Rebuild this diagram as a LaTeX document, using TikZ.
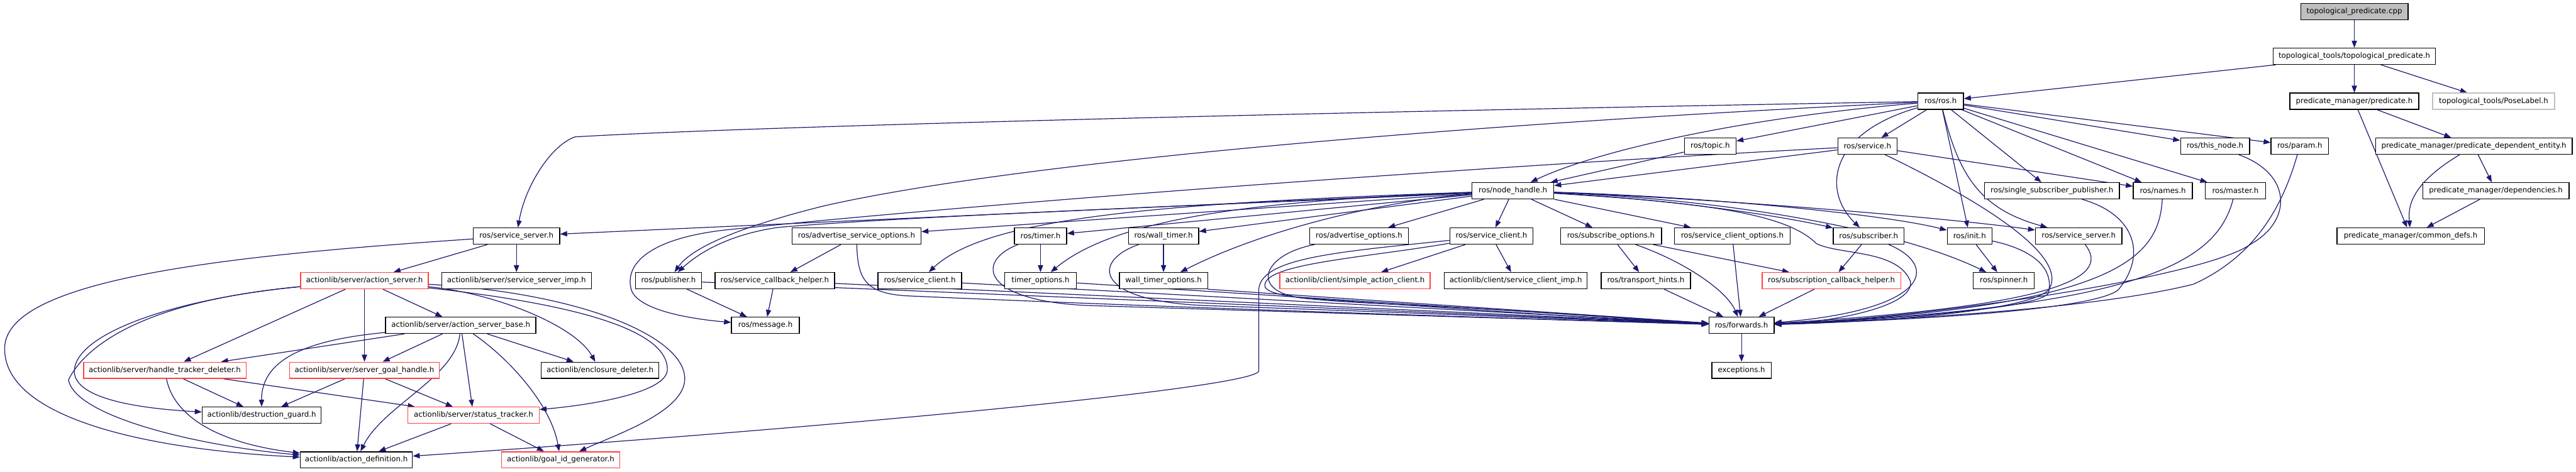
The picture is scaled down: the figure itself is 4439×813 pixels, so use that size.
\documentclass[tikz,border=0pt]{standalone}
\usepackage{fontspec}
\setmainfont{DejaVu Sans}
\usetikzlibrary{arrows.meta,backgrounds}
\definecolor{edgec}{HTML}{191970}
\definecolor{redc}{HTML}{FF4040}
\definecolor{grayc}{HTML}{BFBFBF}
\newcommand\nodefont{\fontsize{12.8pt}{15pt}\selectfont}
\begin{document}
\begin{tikzpicture}[x=1pt,y=-1pt,
  nd/.style={draw=black,line width=1.5pt,fill=white,minimum height=28pt,inner sep=0pt,font=\nodefont},
  rd/.style={nd,draw=redc},
  gd/.style={nd,draw=grayc},
  e/.style={draw=edgec,line width=1.3pt,-{Triangle[length=12pt,width=9pt]}}]
\useasboundingbox (0,0) rectangle (4439,813);
% row 0-4
\node[nd,fill=grayc,minimum width=185pt] (cpp) at (4057,20) {topological\_predicate.cpp};
\node[nd,minimum width=280pt] (tph) at (4057,97) {topological\_tools/topological\_predicate.h};
\node[nd,minimum width=79pt] (rosh) at (3344,174.5) {ros/ros.h};
\node[nd,minimum width=222pt] (pred) at (4057,174.5) {predicate\_manager/predicate.h};
\node[gd,minimum width=210pt] (pose) at (4297,174.5) {topological\_tools/PoseLabel.h};
\node[nd,minimum width=89pt] (topic) at (2947,252) {ros/topic.h};
\node[nd,minimum width=102pt] (service) at (3218,252) {ros/service.h};
\node[nd,minimum width=119pt] (thisnode) at (3817,252) {ros/this\_node.h};
\node[nd,minimum width=99pt] (param) at (3963,252) {ros/param.h};
\node[nd,minimum width=339pt] (pde) at (4263,252) {predicate\_manager/predicate\_dependent\_entity.h};
\node[nd,minimum width=141pt] (nh) at (2607,329) {ros/node\_handle.h};
\node[nd,minimum width=232pt] (ssp) at (3536,329) {ros/single\_subscriber\_publisher.h};
\node[nd,minimum width=102pt] (names) at (3727,329) {ros/names.h};
\node[nd,minimum width=104pt] (master) at (3852,329) {ros/master.h};
\node[nd,minimum width=252pt] (deps) at (4301,329) {predicate\_manager/dependencies.h};
% row 5
\node[nd,minimum width=149pt] (ssL) at (890,407) {ros/service\_server.h};
\node[nd,minimum width=222pt] (aso) at (1476,407) {ros/advertise\_service\_options.h};
\node[nd,minimum width=90pt] (timer) at (1793,407) {ros/timer.h};
\node[nd,minimum width=121pt] (walltimer) at (2005,407) {ros/wall\_timer.h};
\node[nd,minimum width=170pt] (advopt) at (2342,407) {ros/advertise\_options.h};
\node[nd,minimum width=143pt] (scA) at (2570,407) {ros/service\_client.h};
\node[nd,minimum width=174pt] (subopt) at (2776,407) {ros/subscribe\_options.h};
\node[nd,minimum width=199pt] (sco) at (2985,407) {ros/service\_client\_options.h};
\node[nd,minimum width=122pt] (subscriber) at (3220,407) {ros/subscriber.h};
\node[nd,minimum width=77pt] (init) at (3394,407) {ros/init.h};
\node[nd,minimum width=149pt] (ssR) at (3582,407) {ros/service\_server.h};
\node[nd,minimum width=254pt] (cdefs) at (4154,407) {predicate\_manager/common\_defs.h};
% row 6
\node[rd,minimum width=220pt] (aserver) at (628,484) {actionlib/server/action\_server.h};
\node[nd,minimum width=258pt] (ssimp) at (890,484) {actionlib/server/service\_server\_imp.h};
\node[nd,minimum width=114pt] (publisher) at (1152,484) {ros/publisher.h};
\node[nd,minimum width=206pt] (sch) at (1335,484) {ros/service\_callback\_helper.h};
\node[nd,minimum width=144pt] (scB) at (1585,484) {ros/service\_client.h};
\node[nd,minimum width=124pt] (timeropt) at (1793,484) {timer\_options.h};
\node[nd,minimum width=152pt] (wtopt) at (2005,484) {wall\_timer\_options.h};
\node[rd,minimum width=259pt] (sac) at (2335,484) {actionlib/client/simple\_action\_client.h};
\node[nd,minimum width=246pt] (scimp) at (2612,484) {actionlib/client/service\_client\_imp.h};
\node[nd,minimum width=154pt] (transport) at (2836,484) {ros/transport\_hints.h};
\node[rd,minimum width=239pt] (subcb) at (3156,484) {ros/subscription\_callback\_helper.h};
\node[nd,minimum width=105pt] (spinner) at (3453,484) {ros/spinner.h};
% row 7-10
\node[nd,minimum width=259pt] (asbase) at (794,561) {actionlib/server/action\_server\_base.h};
\node[nd,minimum width=117pt] (message) at (1319,561) {ros/message.h};
\node[nd,minimum width=112pt] (forwards) at (3001,561) {ros/forwards.h};
\node[rd,minimum width=280pt] (htd) at (284,638.5) {actionlib/server/handle\_tracker\_deleter.h};
\node[rd,minimum width=258pt] (sgh) at (628,638.5) {actionlib/server/server\_goal\_handle.h};
\node[nd,minimum width=203pt] (encl) at (1034,638.5) {actionlib/enclosure\_deleter.h};
\node[nd,minimum width=102pt] (exceptions) at (3001,638.5) {exceptions.h};
\node[nd,minimum width=205pt] (dguard) at (451,716) {actionlib/destruction\_guard.h};
\node[rd,minimum width=226pt] (stracker) at (816,716) {actionlib/server/status\_tracker.h};
\node[nd,minimum width=193pt] (adef) at (614,793) {actionlib/action\_definition.h};
\node[rd,minimum width=204pt] (goalid) at (966,793) {actionlib/goal\_id\_generator.h};

\begin{scope}[on background layer]
\fill[white] (0,0) rectangle (4439,813);
% top group
\draw[e] (cpp) -- (tph);
\draw[e] (tph) -- (rosh);
\draw[e] (tph) -- (pred);
\draw[e] (tph) -- (pose);
\draw[e] (pred) -- (pde);
\draw[e] (pred) -- (cdefs);
\draw[e] (pde) -- (deps);
\draw[e] (pde) .. controls (4150,320) and (4150,360) .. (cdefs);
\draw[e] (deps) -- (cdefs);
% ros.h
\draw[e] (rosh) -- (topic);
\draw[e] (rosh) -- (service);
\draw[e] (rosh) -- (init);
\draw[e] (rosh) -- (ssp);
\draw[e] (rosh) -- (names);
\draw[e] (rosh) -- (master);
\draw[e] (rosh) -- (thisnode);
\draw[e] (rosh) -- (param);
\draw[e] (rosh) .. controls (2980,205) and (2740,265) .. (nh);
\draw[e] (rosh) .. controls (2200,195) and (1300,218) .. (991,236) .. controls (950,250) and (905,320) .. (ssL);
\draw[e] (rosh) .. controls (2500,215) and (1750,280) .. (1420,355) .. controls (1260,395) and (1190,430) .. (publisher);
\draw[e] (rosh) .. controls (3150,230) and (3140,330) .. (subscriber);
\draw[e] (rosh) .. controls (3375,300) and (3410,360) .. (ssR);
% topic, service
\draw[e] (topic) -- (nh);
\draw[e] (service) -- (names);
\draw[e] (service) -- (nh);
\draw[e] (service) .. controls (2500,290) and (1700,350) .. (1246,397) .. controls (1120,412) and (1075,455) .. (1088,500) .. controls (1100,535) and (1190,550) .. (message);
\draw[e] (service) .. controls (3400,340) and (3570,440) .. (3530,500) .. controls (3490,540) and (3200,556) .. (forwards);
% node_handle
\draw[e] (nh) -- (ssL);
\draw[e] (nh) -- (aso);
\draw[e] (nh) -- (timer);
\draw[e] (nh) -- (walltimer);
\draw[e] (nh) -- (advopt);
\draw[e] (nh) -- (scA);
\draw[e] (nh) -- (subopt);
\draw[e] (nh) -- (sco);
\draw[e] (nh) .. controls (2900,345) and (3080,375) .. (subscriber);
\draw[e] (nh) .. controls (2950,340) and (3250,370) .. (init);
\draw[e] (nh) .. controls (2950,342) and (3350,375) .. (ssR);
\draw[e] (nh) .. controls (3000,345) and (3280,400) .. (spinner);
\draw[e] (nh) .. controls (2950,350) and (3080,370) .. (3130,420) .. controls (3170,440) and (3270,430) .. (3292,485) .. controls (3300,530) and (3150,556) .. (forwards);
\draw[e] (nh) .. controls (2200,350) and (1600,370) .. (1342,392) .. controls (1250,405) and (1200,440) .. (publisher);
\draw[e] (nh) .. controls (2000,350) and (1700,375) .. (scB);
\draw[e] (nh) .. controls (2200,345) and (1930,370) .. (timeropt);
\draw[e] (nh) .. controls (2400,345) and (2190,390) .. (wtopt);
% service_server (left) and actionlib
\draw[e] (ssL) -- (aserver);
\draw[e] (ssL) -- (ssimp);
\draw[e] (ssL) .. controls (400,440) and (10,480) .. (8,600) .. controls (6,720) and (250,775) .. (adef);
\draw[e] (aserver) -- (asbase);
\draw[e] (aserver) -- (sgh);
\draw[e] (aserver) -- (htd);
\draw[e] (aserver) .. controls (300,515) and (130,575) .. (128,640) .. controls (128,690) and (250,705) .. (dguard);
\draw[e] (aserver) .. controls (240,520) and (145,600) .. (118,655) .. controls (130,720) and (350,770) .. (adef);
\draw[e] (aserver) .. controls (850,505) and (990,560) .. (encl);
\draw[e] (aserver) .. controls (950,520) and (1150,560) .. (1150,637) .. controls (1150,680) and (1000,700) .. (stracker);
\draw[e] (aserver) .. controls (1000,505) and (1180,580) .. (1180,653) .. controls (1180,710) and (1060,750) .. (goalid);
\draw[e] (asbase) -- (htd);
\draw[e] (asbase) -- (sgh);
\draw[e] (asbase) -- (encl);
\draw[e] (asbase) -- (stracker);
\draw[e] (asbase) .. controls (540,585) and (450,615) .. (dguard);
\draw[e] (asbase) .. controls (785,650) and (660,700) .. (adef);
\draw[e] (asbase) .. controls (880,620) and (950,700) .. (goalid);
\draw[e] (htd) -- (dguard);
\draw[e] (htd) -- (stracker);
\draw[e] (htd) .. controls (300,720) and (380,765) .. (adef);
\draw[e] (sgh) -- (dguard);
\draw[e] (sgh) -- (adef);
\draw[e] (sgh) -- (stracker);
\draw[e] (stracker) -- (adef);
\draw[e] (stracker) -- (goalid);
% service_client (row 5)
\draw[e] (scA) -- (sac);
\draw[e] (scA) -- (scimp);
\draw[e] (scA) .. controls (2300,435) and (2172,445) .. (2169,500) -- (2169,640) .. controls (2160,670) and (1400,740) .. (adef);
\draw[e] (scA) .. controls (2350,445) and (2170,455) .. (2180,495) .. controls (2190,515) and (2300,520) .. (2450,527) .. controls (2700,540) and (2850,553) .. (forwards);
\draw[e] (advopt) .. controls (2170,440) and (2150,510) .. (2260,515) .. controls (2550,535) and (2800,552) .. (forwards);
% subscribe options etc.
\draw[e] (subopt) -- (transport);
\draw[e] (subopt) -- (subcb);
\draw[e] (subopt) .. controls (2900,450) and (2975,500) .. (forwards);
\draw[e] (sco) -- (forwards);
\draw[e] (subscriber) -- (subcb);
\draw[e] (subscriber) .. controls (3345,460) and (3320,535) .. (forwards);
\draw[e] (init) -- (spinner);
\draw[e] (init) .. controls (3500,430) and (3540,460) .. (3530,505) .. controls (3515,535) and (3200,553) .. (forwards);
\draw[e] (ssR) .. controls (3630,470) and (3590,525) .. (forwards);
\draw[e] (ssp) .. controls (3680,370) and (3700,440) .. (3650,500) .. controls (3600,540) and (3200,555) .. (forwards);
\draw[e] (names) .. controls (3720,440) and (3660,530) .. (forwards);
\draw[e] (master) .. controls (3820,450) and (3700,530) .. (forwards);
\draw[e] (thisnode) .. controls (3950,300) and (3950,380) .. (3880,420) .. controls (3800,480) and (3300,550) .. (forwards);
\draw[e] (param) .. controls (3935,350) and (3890,440) .. (3780,490) .. controls (3600,535) and (3250,552) .. (forwards);
% left group into forwards
\draw[e] (aso) -- (sch);
\draw[e] (aso) .. controls (1478,480) and (1490,505) .. (1560,510) .. controls (2000,530) and (2700,552) .. (forwards);
\draw[e] (publisher) -- (message);
\draw[e] (publisher) -- (forwards);
\draw[e] (sch) -- (message);
\draw[e] (sch) -- (forwards);
\draw[e] (scB) -- (forwards);
\draw[e] (timer) -- (timeropt);
\draw[e] (timer) .. controls (1680,450) and (1690,520) .. (1880,527) .. controls (2300,540) and (2700,552) .. (forwards);
\draw[e] (timeropt) -- (forwards);
\draw[e] (walltimer) -- (wtopt);
\draw[e] (walltimer) .. controls (1880,450) and (1885,520) .. (2080,527) .. controls (2450,540) and (2750,552) .. (forwards);
\draw[e] (wtopt.south east) -- (forwards);
\draw[e] (transport) -- (forwards);
\draw[e] (subcb) -- (forwards);
\draw[e] (forwards) -- (exceptions);
\end{scope}
\end{tikzpicture}
\end{document}
